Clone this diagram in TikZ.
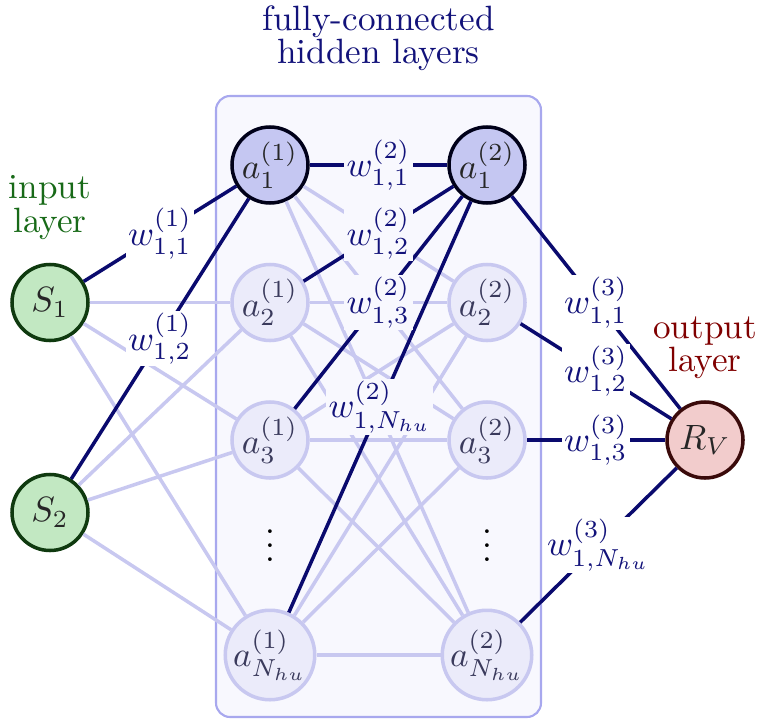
\documentclass[tikz,border=0pt]{standalone}
\usepackage{amsmath}
\usepackage{xcolor}
\usepackage{tikz}
\usetikzlibrary{positioning}

\definecolor{darkedge}{HTML}{0A0A6E}
\definecolor{lightedge}{HTML}{C8C8F0}
\definecolor{hidfill}{HTML}{EBEBFA}
\definecolor{hidact}{HTML}{C5C7F2}
\definecolor{hidtext}{HTML}{3A3A5C}
\definecolor{boxfill}{HTML}{F8F8FE}
\definecolor{boxdraw}{HTML}{A8A8EE}
\definecolor{infill}{HTML}{C2E8C2}
\definecolor{indraw}{HTML}{0F3A0F}
\definecolor{intext}{HTML}{186A18}
\definecolor{outfill}{HTML}{F2CCCC}
\definecolor{outdraw}{HTML}{3A0A0A}
\definecolor{outtext}{HTML}{800000}
\definecolor{wtext}{HTML}{12127A}

\begin{document}
\begin{tikzpicture}[-,node distance=1.375cm,semithick]
  \tikzstyle{neuron}=[circle, draw, line width=1pt, minimum size=0.76cm, inner sep=0pt]
  \tikzstyle{inunit}=[neuron, fill=infill, draw=indraw, text=black!85]
  \tikzstyle{outunit}=[neuron, fill=outfill, draw=outdraw, text=black!85]
  \tikzstyle{hidunit}=[neuron, fill=hidfill, draw=lightedge, text=hidtext]
  \tikzstyle{actunit}=[neuron, fill=hidact, draw=black!90!blue, text=black!85]
  \tikzstyle{lightline}=[draw=lightedge, line width=1pt]
  \tikzstyle{darkline}=[draw=darkedge, line width=1pt]
  \tikzstyle{wlab}=[text=wtext, fill=white, inner sep=0.6pt, midway]
  \tikzstyle{wlabin}=[wlab, fill=boxfill]

  \useasboundingbox (0,0) rectangle (7.57,-7.19);
  \draw[boxdraw, fill=boxfill, line width=0.6pt, rounded corners=4pt] (2.16,-0.96) rectangle (5.41,-7.17);

  % first hidden layer
  \node[actunit] (A1) at (2.70,-1.65) {$a^{(1)}_1$};
  \node[hidunit] (A2) [below of=A1] {$a^{(1)}_2$};
  \node[hidunit] (A3) [below of=A2] {$a^{(1)}_3$};
  \node (AD) [below of=A3, node distance=0.95cm] {$\vdots$};
  \node[hidunit] (AN) [below of=A3, node distance=2.15cm] {$a^{(1)}_{N_{hu}}$};

  % second hidden layer
  \node[actunit] (B1) [right of=A1, node distance=2.17cm] {$a^{(2)}_1$};
  \node[hidunit] (B2) [below of=B1] {$a^{(2)}_2$};
  \node[hidunit] (B3) [below of=B2] {$a^{(2)}_3$};
  \node (BD) [below of=B3, node distance=0.95cm] {$\vdots$};
  \node[hidunit] (BN) [below of=B3, node distance=2.15cm] {$a^{(2)}_{N_{hu}}$};

  % input and output
  \node[inunit] (S1) [left of=A2, node distance=2.2cm] {$S_1$};
  \node[inunit] (S2) [below of=S1, node distance=2.1cm] {$S_2$};
  \node[outunit] (R) [right of=B3, node distance=2.18cm] {$R_V$};

  % titles
  \node[text=intext, align=center] (tin) [above of=S1, node distance=0.95cm] {input\\[-2.5pt]layer};
  \node[text=outtext, align=center] (tout) [above of=R, node distance=0.92cm] {output\\[-2.5pt]layer};
  \node[text=wtext, align=center] (thid) at (3.785,-0.38) {fully-connected\\[-2.5pt]hidden layers};

  % faint connections
  \foreach \s in {S1,S2}
    \foreach \a in {A2,A3,AN}
      \path[lightline] (\s) edge (\a);
  \foreach \a in {A1,A2,A3,AN}
    \foreach \b in {B2,B3,BN}
      \path[lightline] (\a) edge (\b);

  % highlighted weights
  \path[darkline]
    (S1) edge (A1)
    (S2) edge (A1);
  \foreach \a in {A1,A2,A3,AN}
    \path[darkline] (\a) edge (B1);
  \foreach \b in {B1,B2,B3,BN}
    \path[darkline] (\b) edge (R);

  % weight labels
  \path (S1) -- node[wlab] {$w^{(1)}_{1,1}$} (A1);
  \path (S2) -- node[wlab] {$w^{(1)}_{1,2}$} (A1);
  \path (A1) -- node[wlabin] {$w^{(2)}_{1,1}$} (B1);
  \path (A2) -- node[wlabin] {$w^{(2)}_{1,2}$} (B1);
  \path (A3) -- node[wlabin] {$w^{(2)}_{1,3}$} (B1);
  \path (AN) -- node[wlabin] {$w^{(2)}_{1,N_{hu}}$} (B1);
  \path (B1) -- node[wlab] {$w^{(3)}_{1,1}$} (R);
  \path (B2) -- node[wlab] {$w^{(3)}_{1,2}$} (R);
  \path (B3) -- node[wlab] {$w^{(3)}_{1,3}$} (R);
  \path (BN) -- node[wlab] {$w^{(3)}_{1,N_{hu}}$} (R);
\end{tikzpicture}
\end{document}
